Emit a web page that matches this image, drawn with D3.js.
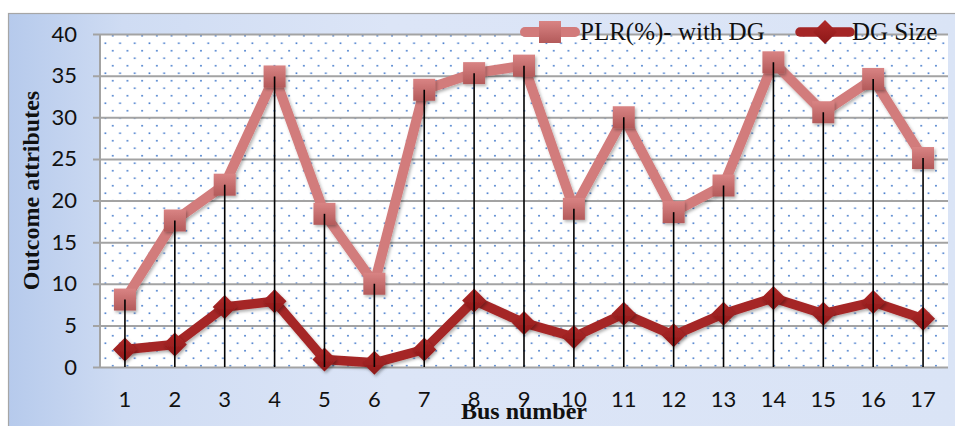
<!DOCTYPE html>
<html>
<head>
<meta charset="utf-8">
<script src="https://cdn.jsdelivr.net/npm/d3@7"></script>
<style>
  html, body { margin: 0; padding: 0; background: #ffffff; }
  svg { display: block; }
</style>
</head>
<body>
<div id="chart"></div>
<script>
// Bus numbers along the x axis
const buses = ["1","2","3","4","5","6","7","8","9","10","11","12","13","14","15","16","17"];
// Power loss reduction (%) with DG placed at each bus
const plrWithDG = [8.1, 17.6, 21.9, 34.9, 18.4, 10.0, 33.3, 35.3, 36.2, 19.0, 30.0, 18.6, 21.8, 36.6, 30.6, 34.6, 25.1];
// DG size placed at each bus
const dgSize = [2.1, 2.7, 7.2, 7.9, 0.9, 0.5, 2.1, 8.0, 5.3, 3.6, 6.4, 3.8, 6.4, 8.3, 6.4, 7.8, 5.8];
// Y axis ticks
const yTicks = [0, 5, 10, 15, 20, 25, 30, 35, 40];
const seriesNames = ["PLR(%)- with DG", "DG Size"];

const W = 955, H = 426;
const plot = { left: 100, top: 34, right: 948, bottom: 367 };

const svg = d3.select("#chart").append("svg")
  .attr("width", W).attr("height", H);

const defs = svg.append("defs");

// chart area background: soft blue gradient, stronger on the left
const bg = defs.append("linearGradient").attr("id", "bgGrad")
  .attr("x1", "0").attr("y1", "0").attr("x2", "1").attr("y2", "0");
bg.append("stop").attr("offset", "0").attr("stop-color", "#b6caec");
bg.append("stop").attr("offset", "0.12").attr("stop-color", "#cfdcf3");
bg.append("stop").attr("offset", "0.4").attr("stop-color", "#dce5f7");
bg.append("stop").attr("offset", "1").attr("stop-color", "#dae4f6");

// dotted fill of the plot area
const pat = defs.append("pattern").attr("id", "dots")
  .attr("patternUnits", "userSpaceOnUse")
  .attr("x", plot.left).attr("y", plot.top)
  .attr("width", 14.7).attr("height", 15);
pat.append("rect").attr("width", 14.7).attr("height", 15).attr("fill", "#ffffff");
pat.append("rect").attr("x", 11.9).attr("y", 0.9).attr("width", 1.7).attr("height", 1.7).attr("fill", "#4f82cf");
pat.append("rect").attr("x", 4.5).attr("y", 8.4).attr("width", 1.7).attr("height", 1.7).attr("fill", "#4f82cf");

// marker gradients
const sq = defs.append("linearGradient").attr("id", "sqGrad")
  .attr("x1", "0").attr("y1", "0").attr("x2", "0").attr("y2", "1");
sq.append("stop").attr("offset", "0").attr("stop-color", "#d98484");
sq.append("stop").attr("offset", "1").attr("stop-color", "#b35a5a");
const dm = defs.append("linearGradient").attr("id", "dmGrad")
  .attr("x1", "0").attr("y1", "0").attr("x2", "0").attr("y2", "1");
dm.append("stop").attr("offset", "0").attr("stop-color", "#b02a2a");
dm.append("stop").attr("offset", "1").attr("stop-color", "#8c1818");

// soft shadow under lines and markers
const sh = defs.append("filter").attr("id", "shadow")
  .attr("x", "-20%").attr("y", "-20%").attr("width", "140%").attr("height", "140%");
sh.append("feDropShadow").attr("dx", 1.5).attr("dy", 2).attr("stdDeviation", 1.8)
  .attr("flood-color", "#000").attr("flood-opacity", 0.3);

// outer chart area
svg.append("rect").attr("x", 8.5).attr("y", 13.5).attr("width", W).attr("height", H)
  .attr("fill", "url(#bgGrad)").attr("stroke", "#a6a6a6").attr("stroke-width", 1.2);

// scales
const x = d3.scaleBand().domain(buses).range([plot.left, plot.right]);
const y = d3.scaleLinear().domain([0, 40]).range([plot.bottom, plot.top]);
const cx = d => x(d) + x.bandwidth() / 2;

// plot area fill
svg.append("rect").attr("x", plot.left).attr("y", plot.top)
  .attr("width", plot.right - plot.left).attr("height", plot.bottom - plot.top)
  .attr("fill", "url(#dots)");

// horizontal gridlines and y axis
const yAxis = d3.axisLeft(y).tickValues(yTicks).tickSize(-(plot.right - plot.left)).tickPadding(12);
const gy = svg.append("g").attr("transform", `translate(${plot.left},0)`).call(yAxis);
gy.select(".domain").remove();
gy.selectAll(".tick line").attr("x1", -7).attr("stroke", "#a3a3a3").attr("stroke-width", 2);
gy.selectAll(".tick text")
  .attr("x", -23)
  .style("font-family", "Lato, 'Open Sans', sans-serif")
  .style("font-size", "22px").attr("fill", "#111");
svg.append("line").attr("x1", plot.left).attr("x2", plot.left)
  .attr("y1", plot.top).attr("y2", plot.bottom)
  .attr("stroke", "#a3a3a3").attr("stroke-width", 2);

// x axis labels
const xAxis = d3.axisBottom(x).tickSize(0).tickPadding(24);
const gx = svg.append("g").attr("transform", `translate(0,${plot.bottom})`).call(xAxis);
gx.select(".domain").remove();
gx.selectAll(".tick text")
  .style("font-family", "Lato, 'Open Sans', sans-serif")
  .style("font-size", "22px").attr("fill", "#111");

// series lines
const lineGen = vals => d3.line().x((d, i) => cx(buses[i])).y(d => y(d))(vals);

svg.append("path").attr("d", lineGen(plrWithDG))
  .attr("fill", "none").attr("stroke", "#d27b7b").attr("stroke-width", 10)
  .attr("stroke-linejoin", "round").attr("stroke-linecap", "round")
  .attr("filter", "url(#shadow)");

svg.append("g").selectAll("rect").data(plrWithDG).join("rect")
  .attr("x", (d, i) => cx(buses[i]) - 11).attr("y", d => y(d) - 11)
  .attr("width", 22).attr("height", 22)
  .attr("fill", "url(#sqGrad)").attr("filter", "url(#shadow)");

svg.append("path").attr("d", lineGen(dgSize))
  .attr("fill", "none").attr("stroke", "#a52626").attr("stroke-width", 9.5)
  .attr("stroke-linejoin", "round").attr("stroke-linecap", "round")
  .attr("filter", "url(#shadow)");

const diamond = (px, py, r) => `M${px},${py - r}L${px + r},${py}L${px},${py + r}L${px - r},${py}Z`;
svg.append("g").selectAll("path").data(dgSize).join("path")
  .attr("d", (d, i) => diamond(cx(buses[i]), y(d), 12))
  .attr("fill", "url(#dmGrad)").attr("filter", "url(#shadow)");

// drop lines from each PLR point down to the axis
svg.append("g").selectAll("line").data(plrWithDG).join("line")
  .attr("x1", (d, i) => cx(buses[i])).attr("x2", (d, i) => cx(buses[i]))
  .attr("y1", d => y(d)).attr("y2", y(0))
  .attr("stroke", "#000").attr("stroke-width", 1.6);

// legend
const lg = svg.append("g");
lg.append("line").attr("x1", 525).attr("x2", 575).attr("y1", 32).attr("y2", 32)
  .attr("stroke", "#d27b7b").attr("stroke-width", 10).attr("stroke-linecap", "round");
lg.append("rect").attr("x", 539).attr("y", 21).attr("width", 22).attr("height", 22)
  .attr("fill", "url(#sqGrad)");
lg.append("text").attr("x", 580).attr("y", 40).text(seriesNames[0])
  .style("font-family", "'Liberation Serif', 'Times New Roman', serif")
  .style("font-size", "25px").attr("fill", "#111");
lg.append("line").attr("x1", 800).attr("x2", 850).attr("y1", 32).attr("y2", 32)
  .attr("stroke", "#a52626").attr("stroke-width", 9.5).attr("stroke-linecap", "round");
lg.append("path").attr("d", diamond(825, 32, 12)).attr("fill", "url(#dmGrad)");
lg.append("text").attr("x", 852).attr("y", 40).text(seriesNames[1])
  .style("font-family", "'Liberation Serif', 'Times New Roman', serif")
  .style("font-size", "25px").attr("fill", "#111");

// axis titles
svg.append("text")
  .attr("transform", `translate(39,${(plot.top + plot.bottom) / 2 - 10}) rotate(-90)`)
  .attr("text-anchor", "middle").text("Outcome attributes")
  .style("font-family", "'Liberation Serif', 'Times New Roman', serif")
  .style("font-weight", "bold").style("font-size", "24px").attr("fill", "#111");
svg.append("text")
  .attr("x", 524).attr("y", 419).attr("text-anchor", "middle").text("Bus number")
  .style("font-family", "'Liberation Serif', 'Times New Roman', serif")
  .style("font-weight", "bold").style("font-size", "24px").attr("fill", "#111");
</script>
</body>
</html>
